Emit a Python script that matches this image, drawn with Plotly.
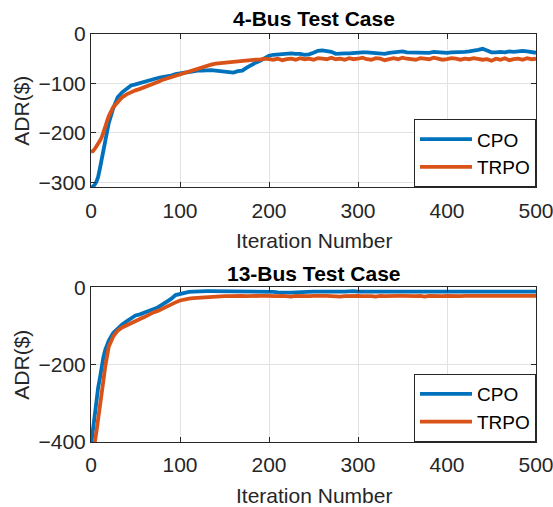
import plotly.graph_objects as go

# ---------------- data ----------------
iters = [0, 2, 4, 6, 8, 10, 12, 14, 16, 18, 20] + list(range(25, 501, 5))

bus4_cpo = [-312, -309, -305, -299, -289, -272, -255, -235, -215, -195, -180,
            -150, -128, -118, -110, -104, -102, -99, -97, -94, -92, -89, -87, -86, -84, -81,
            -79, -78, -77, -75, -74, -74, -73, -73, -74, -75, -75, -76, -78, -75, -74,
            -68, -62, -58, -54, -48, -44, -42, -41, -40, -39, -39, -40, -40, -42, -41,
            -38, -34, -33, -34, -36, -40, -39, -39, -39, -38, -38, -37, -37, -38, -39,
            -39, -40, -38, -37, -35, -35, -37, -37, -38, -37, -37, -38, -36, -37, -38,
            -38, -37, -37, -36, -36, -35, -34, -32, -30, -34, -37, -37, -36, -37, -35,
            -36, -35, -34, -35, -37, -38]

bus4_trpo = [-238, -237, -233, -228, -224, -216, -209, -200, -188, -176, -166,
             -148, -137, -128, -122, -117, -114, -111, -108, -104, -101, -97, -93, -90, -88, -84,
             -82, -79, -76, -73, -70, -67, -64, -62, -60, -59, -58, -57, -56, -55, -55,
             -54, -53, -52, -52, -50, -51, -52, -50, -53, -51, -50, -52, -49, -51, -50,
             -52, -49, -50, -51, -48, -51, -50, -52, -49, -51, -50, -48, -51, -52, -49,
             -50, -53, -50, -49, -51, -48, -50, -51, -52, -49, -50, -51, -48, -50, -52,
             -51, -49, -50, -52, -50, -51, -49, -50, -52, -51, -54, -50, -52, -49, -53,
             -51, -50, -52, -49, -51, -50]

bus13_cpo = [-410, -370, -320, -285, -260, -235, -200, -180, -162, -148, -138,
             -118, -106, -96, -88, -80, -73, -70, -66, -61, -57, -52, -45, -38, -30, -20,
             -17, -15, -12, -11, -10, -10, -10, -10, -10, -10, -10, -10, -10, -10, -10,
             -10, -10, -10, -11, -11, -11, -12, -13, -14, -15, -14, -13, -12, -12, -11,
             -11, -11, -10, -11, -11, -10, -11, -11, -10, -10, -11, -11, -10, -11, -10,
             -11, -11, -10, -11, -10, -10, -11, -10, -11, -11, -10, -10, -11, -10, -11,
             -10, -11, -10, -10, -11, -11, -10, -11, -10, -10, -11, -11, -10, -11, -10,
             -11, -10, -11, -11, -10, -11]

bus13_trpo = [-450, -430, -405, -375, -345, -315, -275, -240, -205, -175, -153,
              -127, -112, -104, -98, -92, -86, -82, -77, -70, -65, -61, -55, -50, -45, -39,
              -34, -31, -29, -28, -27, -26, -26, -25, -25, -24, -23, -23, -22, -23, -22,
              -23, -22, -23, -22, -22, -23, -22, -23, -22, -23, -24, -22, -23, -22, -23,
              -22, -23, -22, -22, -23, -22, -24, -23, -22, -23, -22, -23, -22, -23, -24,
              -22, -23, -22, -23, -22, -22, -23, -22, -23, -22, -24, -22, -23, -22, -23,
              -22, -23, -22, -23, -22, -22, -24, -23, -22, -23, -22, -23, -22, -24, -22,
              -23, -22, -23, -22, -23, -22]

series_names = ["CPO", "TRPO"]
panel_titles = ["4-Bus Test Case", "13-Bus Test Case"]
x_ticks = [0, 100, 200, 300, 400, 500]
y_ticks_top = [0, -100, -200, -300]
y_ticks_bottom = [0, -200, -400]

# ---------------- style ----------------
BLUE = "#0072BD"
ORANGE = "#D95319"
FONT = "Liberation Sans, Arial, Helvetica, sans-serif"
AXC = "#262626"
GRID = "#e2e2e2"
LW = 3.8

fig = go.Figure()
fig.add_trace(go.Scatter(x=iters, y=bus4_cpo, mode="lines", name=series_names[0],
                         line=dict(color=BLUE, width=LW), xaxis="x", yaxis="y", legend="legend"))
fig.add_trace(go.Scatter(x=iters, y=bus4_trpo, mode="lines", name=series_names[1],
                         line=dict(color=ORANGE, width=LW), xaxis="x", yaxis="y", legend="legend"))
fig.add_trace(go.Scatter(x=iters, y=bus13_cpo, mode="lines", name=series_names[0],
                         line=dict(color=BLUE, width=LW), xaxis="x2", yaxis="y2", legend="legend2"))
fig.add_trace(go.Scatter(x=iters, y=bus13_trpo, mode="lines", name=series_names[1],
                         line=dict(color=ORANGE, width=LW), xaxis="x2", yaxis="y2", legend="legend2"))

W, H = 553, 507
ml, mr, mt, mb = 91, 17, 34, 65
ph = H - mt - mb
top_dom = [1 - (187.3 - mt) / ph, 1.0]
bot_dom = [0.0, 1 - (287.3 - mt) / ph]

axis_common = dict(showline=True, linecolor=AXC, linewidth=1, mirror="ticks",
                   ticks="inside", ticklen=5, tickcolor=AXC, showgrid=True,
                   gridcolor=GRID, gridwidth=1, zeroline=False,
                   ticklabeloverflow="allow", automargin=False,
                   tickfont=dict(family=FONT, size=21, color=AXC))
xaxis_extra = dict(ticklabelstandoff=4)

legend_common = dict(xanchor="right", yanchor="bottom",
                     bgcolor="white", bordercolor=AXC, borderwidth=1,
                     font=dict(family=FONT, size=19, color="black"), itemwidth=52,
                     tracegroupgap=0)

fig.update_layout(
    width=W, height=H,
    margin=dict(l=ml, r=mr, t=mt, b=mb, autoexpand=False),
    paper_bgcolor="white", plot_bgcolor="white",
    font=dict(family=FONT, color=AXC),
    xaxis=dict(domain=[0, 1], anchor="y", range=[0, 500], tickvals=x_ticks, **axis_common, **xaxis_extra),
    yaxis=dict(domain=top_dom, anchor="x", range=[-310, 0], tickvals=y_ticks_top, **axis_common),
    xaxis2=dict(domain=[0, 1], anchor="y2", range=[0, 500], tickvals=x_ticks, **axis_common, **xaxis_extra),
    yaxis2=dict(domain=bot_dom, anchor="x2", range=[-400, 0], tickvals=y_ticks_bottom, **axis_common),
    legend=dict(x=1, y=top_dom[0], **legend_common),
    legend2=dict(x=1, y=bot_dom[0], **legend_common),
    showlegend=True,
)

annots = []
for i, (xr, yr) in enumerate([("x", "y"), ("x2", "y2")]):
    annots.append(dict(text="<b>%s</b>" % panel_titles[i], xref=xr + " domain", yref=yr + " domain",
                       x=0.5, y=1, xanchor="center", yanchor="bottom", yshift=[2, 0][i],
                       showarrow=False, font=dict(family=FONT, size=21, color="black")))
    annots.append(dict(text="Iteration Number", xref=xr + " domain", yref=yr + " domain",
                       x=0.5, y=0, xanchor="center", yanchor="middle", yshift=-53,
                       showarrow=False, font=dict(family=FONT, size=21, color=AXC)))
    annots.append(dict(text="ADR($)", xref=xr + " domain", yref=yr + " domain",
                       x=0, y=0.5, xanchor="center", yanchor="middle", xshift=-69, textangle=-90,
                       showarrow=False, font=dict(family=FONT, size=21, color=AXC)))
fig.update_layout(annotations=annots)

fig.write_html("out.html", config={"displayModeBar": False},
               post_script="document.body.style.margin='0';document.body.style.overflow='hidden';")
